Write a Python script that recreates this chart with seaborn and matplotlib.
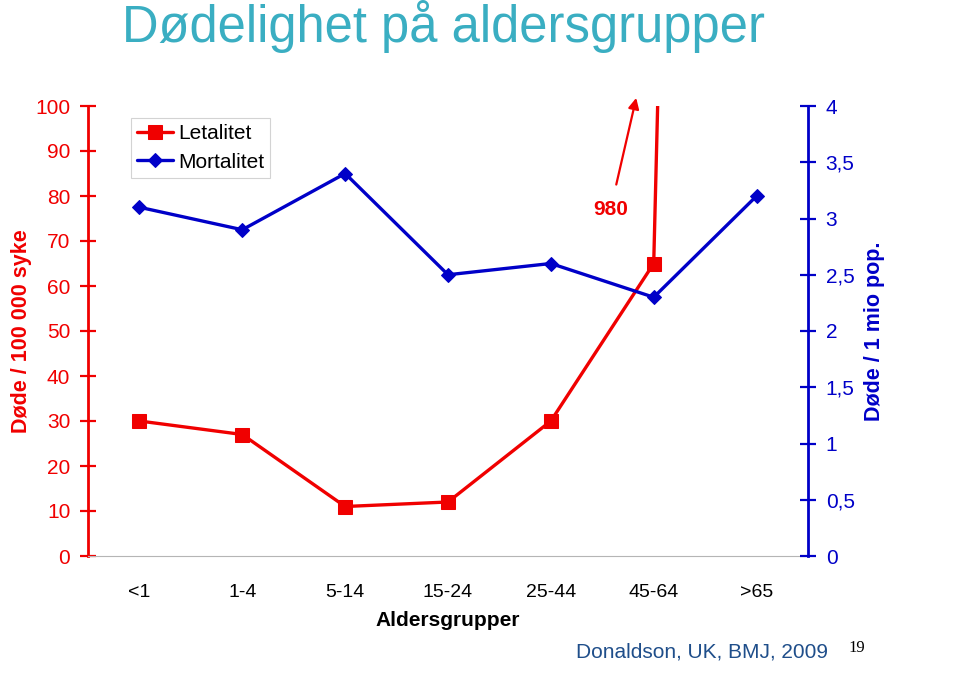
import numpy as np
import pandas as pd
import seaborn as sns
import matplotlib.pyplot as plt

# Data
age_groups = ["<1", "1-4", "5-14", "15-24", "25-44", "45-64", ">65"]
letalitet = [30, 27, 11, 12, 30, 65, 980]          # deaths / 100 000 sick
mortalitet = [3.1, 2.9, 3.4, 2.5, 2.6, 2.3, 3.2]    # deaths / 1 mio population
left_ticks = list(range(0, 101, 10))
right_ticks = [0, 0.5, 1, 1.5, 2, 2.5, 3, 3.5, 4]

df = pd.DataFrame({"Aldersgruppe": age_groups,
                   "Letalitet": letalitet,
                   "Mortalitet": mortalitet})

sns.set_style("white")
plt.rcParams["font.family"] = ["Liberation Sans", "DejaVu Sans"]
plt.rcParams["text.color"] = "black"
plt.rcParams["axes.labelcolor"] = "black"

RED = "#F00000"
BLUE = "#0000C8"
TEAL = "#3AAEC2"

fig = plt.figure(figsize=(9.59, 6.98), dpi=100)
ax = fig.add_axes([88 / 959, 1 - 556 / 698, 720 / 959, 450 / 698])
ax2 = ax.twinx()

# Letalitet on left axis
sns.lineplot(data=df, x="Aldersgruppe", y="Letalitet", ax=ax, color=RED,
             lw=2.4, marker="s", markersize=10, markeredgecolor=RED,
             label="Letalitet", legend=False, sort=False)
# Mortalitet on right axis
sns.lineplot(data=df, x="Aldersgruppe", y="Mortalitet", ax=ax2, color=BLUE,
             lw=2.4, marker="D", markersize=7, markeredgecolor=BLUE,
             label="Mortalitet", legend=False, sort=False)

ax.set_xlim(-0.5, len(age_groups) - 0.5)
ax.set_ylim(0, 100)
ax2.set_ylim(0, 4)

# left axis styling
ax.set_yticks(left_ticks)
ax.tick_params(axis="y", colors=RED, labelsize=15, direction="inout",
               length=11.5, width=1.6, pad=7)
ax.spines["left"].set_color(RED)
ax.spines["left"].set_linewidth(2)
ax.spines["top"].set_visible(False)
ax.spines["right"].set_visible(False)
ax.spines["bottom"].set_color("#B5B5B5")
ax.spines["bottom"].set_linewidth(0.8)
ax.set_ylabel("Døde / 100 000 syke", color=RED, fontsize=15.5,
              fontweight="bold", labelpad=2.5)

# x axis: labels centred, small separators between categories
ax.set_xticks(range(len(age_groups)))
ax.set_xticklabels(age_groups)
ax.set_xticks(np.arange(0.5, len(age_groups) - 1, 1), minor=True)
ax.tick_params(axis="x", which="major", length=0, labelsize=14, pad=20,
               labelcolor="black")
ax.tick_params(axis="x", which="minor", direction="inout", length=5,
               width=0.8, color="#B5B5B5")
ax.set_xlabel("Aldersgrupper", fontsize=15, fontweight="bold", labelpad=7,
              color="black")

# right axis styling
ax2.set_yticks(right_ticks)
ax2.set_yticklabels([f"{t:g}".replace(".", ",") for t in right_ticks])
ax2.tick_params(axis="y", colors=BLUE, labelsize=15, direction="inout",
                length=11.5, width=1.6, pad=7)
for s in ["left", "top", "bottom"]:
    ax2.spines[s].set_visible(False)
ax2.spines["right"].set_color(BLUE)
ax2.spines["right"].set_linewidth(2)
ax2.set_ylabel("Døde / 1 mio pop.", color=BLUE, fontsize=15.5,
               fontweight="bold", labelpad=7)

# 980 annotation with arrow pointing off the chart
ax.annotate("980", xy=(4.83, 101.8), xytext=(4.58, 77), textcoords="data",
            color=RED, fontsize=15, fontweight="bold", ha="center", va="center",
            annotation_clip=False,
            arrowprops=dict(arrowstyle="-|>", color=RED, lw=1.6,
                            mutation_scale=16, shrinkA=9, shrinkB=0))

# legend
h1, l1 = ax.get_legend_handles_labels()
h2, l2 = ax2.get_legend_handles_labels()
leg = ax2.legend(h1 + h2, l1 + l2, loc="upper left",
                 bbox_to_anchor=(131 / 959, 1 - 118 / 698),
                 bbox_transform=fig.transFigure, borderaxespad=0,
                 fontsize=15, frameon=True, fancybox=False, handlelength=1.7,
                 handletextpad=0.25, borderpad=0.3, labelspacing=0.45,
                 labelcolor="black")
leg.get_frame().set_edgecolor("#C8C8C8")
leg.get_frame().set_linewidth(0.8)

# slide title and source
fig.text(122 / 959, 1 - 42 / 698, "Dødelighet på aldersgrupper", color=TEAL,
         fontsize=36.5, ha="left", va="baseline")
fig.text(828 / 959, 1 - 652 / 698, "Donaldson, UK, BMJ, 2009", color="#1F4E8A",
         fontsize=15, ha="right", va="center")
fig.text(857 / 959, 1 - 648 / 698, "19", color="black", fontsize=12,
         ha="center", va="center", family="Liberation Serif")

fig.savefig("out.png", dpi=100)
